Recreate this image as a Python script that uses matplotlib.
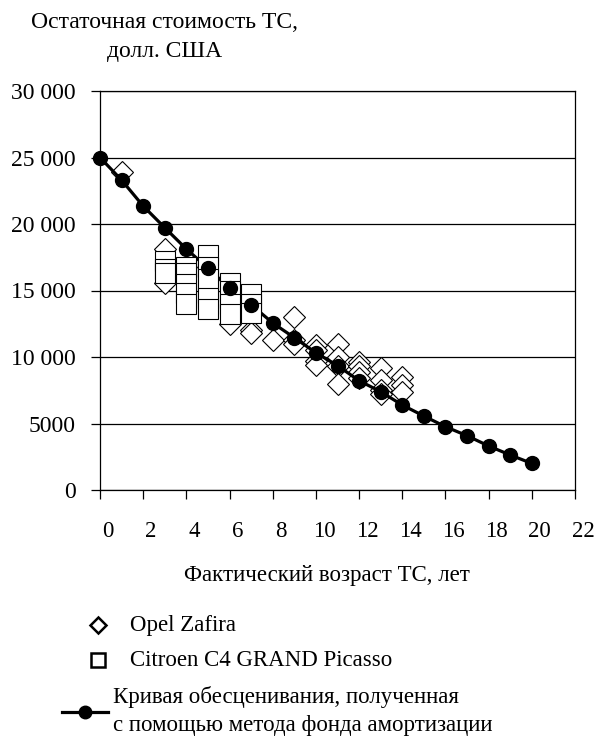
import matplotlib.pyplot as plt
from matplotlib.lines import Line2D
from matplotlib.transforms import ScaledTranslation

plt.rcParams['font.family'] = 'serif'
plt.rcParams['font.serif'] = ['Liberation Serif', 'DejaVu Serif']

ages = list(range(21))
curve = [25000, 23300, 21350, 19720, 18120, 16680, 15170, 13930, 12560, 11450,
         10320, 9350, 8220, 7390, 6390, 5560, 4760, 4080, 3310, 2630, 2000]

opel_age = [1, 3, 3, 4, 6, 7, 7, 8, 9, 9, 9, 10, 10, 10, 10,
            11, 11, 11, 11, 12, 12, 12, 12, 13, 13, 13, 13, 14, 14, 14]
opel_val = [23900, 18100, 15600, 16800, 12500, 12000, 11800, 11300, 13000, 11300,
            11000, 10900, 10500, 9700, 9400, 11000, 10000, 9300, 8000, 9600,
            9300, 8900, 8400, 9200, 8300, 7500, 7200, 8500, 7900, 7400]

cit_age = [3, 3, 3, 4, 4, 4, 4, 4, 5, 5, 5, 5, 5, 6, 6, 6, 6, 7, 7, 7]
cit_val = [17200, 16600, 16300, 16800, 16300, 15500, 14800, 14000,
           17700, 16800, 15900, 14400, 13600, 15600, 15000, 14000, 13200,
           14700, 14000, 13300]

xticks = list(range(0, 23, 2))
yticks = [0, 5000, 10000, 15000, 20000, 25000, 30000]
ytick_labels = ['0', '5000', '10 000', '15 000', '20 000', '25 000', '30 000']

W, H = 597, 742
fig = plt.figure(figsize=(W / 100, H / 100), dpi=100)
ax = fig.add_axes([100 / W, 1 - 490 / H, 475 / W, 399 / H])

fs = 16.5
ax.plot(opel_age, opel_val, 'D', ms=11.2, mfc='white', mec='black', mew=0.8,
        ls='none', zorder=2, clip_on=False)
ax.plot(ages, curve, '-', color='black', lw=2.3, zorder=3, clip_on=False)
ax.plot(cit_age, cit_val, 's', ms=14.4, mfc='white', mec='black', mew=0.8,
        ls='none', zorder=4, clip_on=False)
ax.plot(ages, curve, 'o', color='black', ms=10, ls='none', zorder=5, clip_on=False)

ax.set_xlim(0, 22)
ax.set_ylim(0, 30000)
ax.set_xticks(xticks)
ax.set_yticks(yticks)
ax.set_yticklabels(ytick_labels)
ax.yaxis.grid(True, color='black', lw=0.9)
ax.set_axisbelow(True)
for s in ax.spines.values():
    s.set_linewidth(0.9)
ax.tick_params(axis='both', direction='out', length=6.5, width=0.9, labelsize=fs)
ax.tick_params(axis='y', labelsize=17, pad=11)
ax.tick_params(axis='x', pad=16)
for lab in ax.get_xticklabels():
    lab.set_transform(lab.get_transform() + ScaledTranslation(0.08, 0, fig.dpi_scale_trans))

fig.text(165 / W, 1 - 22 / H, 'Остаточная стоимость ТС,', ha='center', va='center', fontsize=17)
fig.text(165 / W, 1 - 52 / H, 'долл. США', ha='center', va='center', fontsize=17)
fig.text(327 / W, 1 - 576 / H, 'Фактический возраст ТС, лет', ha='center', va='center', fontsize=fs)

# legend
fig.add_artist(Line2D([98 / W], [1 - 625 / H], marker='D', ms=8.5, mfc='white',
                      mec='black', mew=1.8, ls='none'))
fig.text(130 / W, 1 - 625 / H, 'Opel Zafira', ha='left', va='center', fontsize=fs)
fig.add_artist(Line2D([98 / W], [1 - 660 / H], marker='s', ms=10, mfc='white',
                      mec='black', mew=1.8, ls='none'))
fig.text(130 / W, 1 - 660 / H, 'Citroen C4 GRAND Picasso', ha='left', va='center', fontsize=fs)
fig.add_artist(Line2D([62 / W, 108 / W], [1 - 712 / H, 1 - 712 / H], color='black', lw=2.3))
fig.add_artist(Line2D([85 / W], [1 - 712 / H], marker='o', ms=9, color='black', ls='none'))
fig.text(113 / W, 1 - 697 / H, 'Кривая обесценивания, полученная', ha='left', va='center', fontsize=fs)
fig.text(113 / W, 1 - 726 / H, 'с помощью метода фонда амортизации', ha='left', va='center', fontsize=fs)

fig.savefig('out.png', dpi=100)
